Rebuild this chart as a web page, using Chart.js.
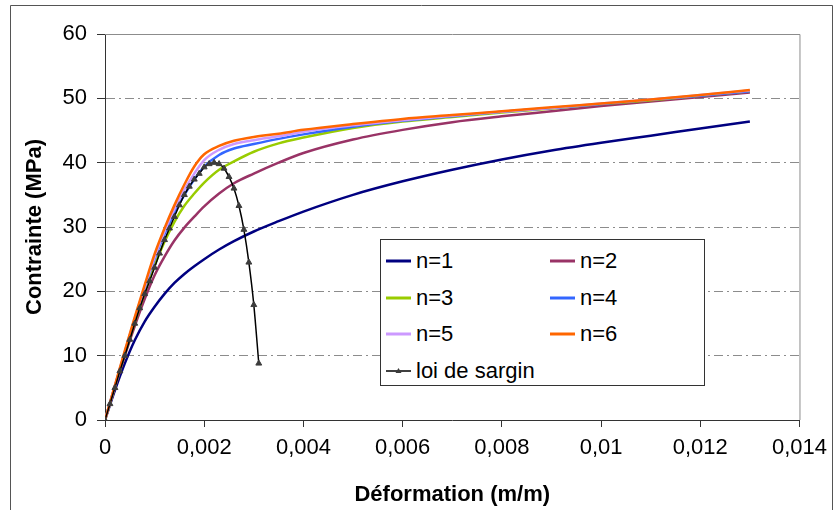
<!DOCTYPE html>
<html>
<head>
<meta charset="utf-8">
<script src="https://cdn.jsdelivr.net/npm/chart.js@4"></script>
<style>
  body { margin: 0; background: #fff; }
  #wrap { position: relative; width: 835px; height: 510px; }
  #legend {
    position: absolute; left: 380px; top: 239px; width: 325px; height: 147px;
    border: 1px solid #333; background: #fff; box-sizing: border-box;
    font-family: "Liberation Sans", Arial, sans-serif; font-size: 22px; color: #000;
  }
  .item { position: absolute; display: flex; align-items: center; height: 26px; white-space: nowrap; }
  .item svg { margin-right: 5px; }
</style>
</head>
<body>
<div id="wrap">
  <canvas id="myChart" width="835" height="510"></canvas>
  <div id="legend"></div>
</div>
<script>
// strain values shared by the n=1..6 curves (m/m)
const strain = [0, 0.0002, 0.0004, 0.0006, 0.0008, 0.001, 0.0012, 0.0014, 0.0016, 0.0018, 0.002,
  0.0023, 0.0026, 0.003, 0.0035, 0.004, 0.005, 0.006, 0.007, 0.008, 0.009, 0.01, 0.011, 0.012, 0.013];

// stress (MPa)
const n1 = [0, 4.6, 8.8, 12.4, 15.3, 17.6, 19.6, 21.3, 22.7, 23.9, 25.0, 26.5, 27.8, 29.3, 30.9, 32.4, 35.0, 37.1, 38.9, 40.5, 41.9, 43.1, 44.2, 45.3, 46.4];
const n2 = [0, 5.1, 10.0, 14.6, 18.8, 22.5, 25.4, 27.9, 29.9, 31.6, 33.2, 35.2, 36.8, 38.3, 40.0, 41.5, 43.6, 45.1, 46.3, 47.2, 48.0, 48.8, 49.5, 50.2, 50.9];
const n3 = [0, 5.2, 10.3, 15.2, 19.8, 24.0, 27.7, 30.8, 33.3, 35.2, 36.9, 38.9, 40.2, 41.7, 43.0, 43.9, 45.4, 46.4, 47.1, 47.8, 48.4, 49.1, 49.7, 50.4, 51.1];
const n4 = [0, 5.3, 10.5, 15.6, 20.5, 25.0, 28.9, 32.2, 35.0, 37.4, 39.4, 41.2, 42.2, 42.9, 43.7, 44.4, 45.6, 46.5, 47.2, 47.9, 48.5, 49.1, 49.8, 50.4, 51.1];
const n5 = [0, 5.3, 10.6, 15.8, 20.7, 25.3, 29.3, 32.8, 35.8, 38.3, 40.4, 42.0, 42.9, 43.5, 44.1, 44.8, 45.8, 46.6, 47.3, 47.9, 48.5, 49.2, 49.8, 50.5, 51.2];
const n6 = [0, 5.4, 10.8, 16.0, 21.0, 25.8, 29.8, 33.4, 36.6, 39.4, 41.3, 42.6, 43.4, 44.0, 44.5, 45.1, 46.0, 46.8, 47.4, 48.0, 48.6, 49.2, 49.8, 50.5, 51.3];

// loi de sargin
const sarginStrain = [0, 0.0001, 0.0002, 0.0003, 0.0004, 0.0005, 0.0006, 0.0007, 0.0008, 0.0009, 0.001,
  0.0011, 0.0012, 0.0013, 0.0014, 0.0015, 0.0016, 0.0017, 0.0018, 0.0019, 0.002,
  0.0021, 0.0022, 0.0023, 0.0024, 0.0025, 0.0026, 0.0027, 0.0028, 0.0029, 0.003, 0.0031];
const sarginStress = [0, 2.5, 5.0, 7.6, 10.0, 12.5, 15.0, 17.4, 19.6, 21.6, 23.7,
  25.9, 28.0, 29.8, 31.6, 33.4, 35.0, 36.3, 37.4, 38.3, 39.3,
  39.8, 40.0, 39.8, 39.1, 37.8, 36.0, 33.3, 29.6, 24.5, 17.9, 8.8];

const seriesNames = ['n=1', 'n=2', 'n=3', 'n=4', 'n=5', 'n=6', 'loi de sargin'];
const seriesColors = ['#000080', '#993366', '#99CC00', '#3366FF', '#CC99FF', '#FF6600', '#000000'];

const xTickValues = [0, 0.002, 0.004, 0.006, 0.008, 0.01, 0.012, 0.014];
const xTickLabels = ['0', '0,002', '0,004', '0,006', '0,008', '0,01', '0,012', '0,014'];
const yTickValues = [0, 10, 20, 30, 40, 50, 60];

const FONT = '"Liberation Sans", Arial, sans-serif';

const toPoints = (xs, ys) => xs.map((x, i) => ({ x: x, y: ys[i] }));

const curves = [n1, n2, n3, n4, n5, n6];
const datasets = curves.map((vals, i) => ({
  label: seriesNames[i],
  data: toPoints(strain, vals),
  borderColor: seriesColors[i],
  borderWidth: 2.5,
  pointRadius: 0,
  cubicInterpolationMode: 'monotone',
  order: 6 - i
}));
datasets.push({
  label: seriesNames[6],
  data: toPoints(sarginStrain, sarginStress),
  borderColor: '#000',
  borderWidth: 1.5,
  pointStyle: 'triangle',
  pointRadius: 3.4,
  pointBackgroundColor: '#3c3c3c',
  pointBorderColor: '#3c3c3c',
  pointBorderWidth: 1,
  cubicInterpolationMode: 'monotone',
  order: 0
});

// outer frame + gray plot border (top/right)
const frames = {
  id: 'frames',
  afterDraw(chart) {
    const { ctx, chartArea: a } = chart;
    ctx.save();
    ctx.strokeStyle = '#8c8c8c';
    ctx.lineWidth = 1;
    ctx.beginPath();
    ctx.moveTo(a.left, a.top + 0.5);
    ctx.lineTo(a.right + 0.5, a.top + 0.5);
    ctx.lineTo(a.right + 0.5, a.bottom);
    ctx.stroke();
    ctx.strokeStyle = '#555';
    ctx.beginPath();
    ctx.moveTo(10.5, 515);
    ctx.lineTo(10.5, 5.5);
    ctx.lineTo(832.5, 5.5);
    ctx.lineTo(832.5, 515);
    ctx.stroke();
    ctx.restore();
  }
};

const config = {
  type: 'line',
  data: { datasets: datasets },
  options: {
    responsive: false,
    animation: false,
    layout: { padding: { top: 34, right: 35, left: 0, bottom: 0 } },
    plugins: { legend: { display: false }, tooltip: { enabled: false } },
    scales: {
      x: {
        type: 'linear',
        min: 0,
        max: 0.014,
        afterBuildTicks: (scale) => { scale.ticks = xTickValues.map(v => ({ value: v })); },
        afterFit: (scale) => { scale.height = 90; },
        ticks: {
          callback: (v, i) => xTickLabels[i],
          font: { family: FONT, size: 22 },
          color: '#000',
          padding: 8,
          maxRotation: 0
        },
        grid: { drawOnChartArea: false, tickLength: 7, tickColor: '#333' },
        border: { color: '#333', width: 1 },
        title: {
          display: true,
          text: 'Déformation (m/m)',
          font: { family: FONT, size: 22, weight: 'bold' },
          color: '#000',
          padding: { top: 0, bottom: 2 }
        }
      },
      y: {
        type: 'linear',
        min: 0,
        max: 60,
        afterBuildTicks: (scale) => { scale.ticks = yTickValues.map(v => ({ value: v })); },
        afterFit: (scale) => { scale.width = 105; },
        ticks: {
          font: { family: FONT, size: 22 },
          color: '#000',
          padding: 10
        },
        grid: {
          color: (c) => (c.tick && (c.tick.value === 0 || c.tick.value === 60)) ? 'rgba(0,0,0,0)' : '#8c8c8c',
          lineWidth: 1,
          tickLength: 8,
          tickColor: '#333',
          tickBorderDash: [],
        },
        border: { color: '#333', width: 1, dash: [9, 4, 2, 4] },
        title: {
          display: true,
          text: 'Contrainte (MPa)',
          font: { family: FONT, size: 22, weight: 'bold' },
          color: '#000',
          padding: { top: 22, bottom: 0 }
        }
      }
    }
  },
  plugins: [frames]
};

const myChart = new Chart(document.getElementById('myChart'), config);

// legend box, two columns, built from the datasets
const legendEl = document.getElementById('legend');
datasets.forEach((d, i) => {
  const col = i % 2, row = Math.floor(i / 2);
  const item = document.createElement('div');
  item.className = 'item';
  item.style.left = (5 + col * 164) + 'px';
  item.style.top = (8 + row * 36.7) + 'px';
  const isSargin = d.label === 'loi de sargin';
  const svg = isSargin
    ? '<svg width="25" height="10"><line x1="0" y1="5" x2="25" y2="5" stroke="#000" stroke-width="1.5"/><polygon points="12.5,2 15.5,7 9.5,7" fill="#3c3c3c"/></svg>'
    : '<svg width="25" height="10"><line x1="0" y1="5" x2="25" y2="5" stroke="' + d.borderColor + '" stroke-width="3"/></svg>';
  item.innerHTML = svg + '<span>' + d.label + '</span>';
  legendEl.appendChild(item);
});
</script>
</body>
</html>
